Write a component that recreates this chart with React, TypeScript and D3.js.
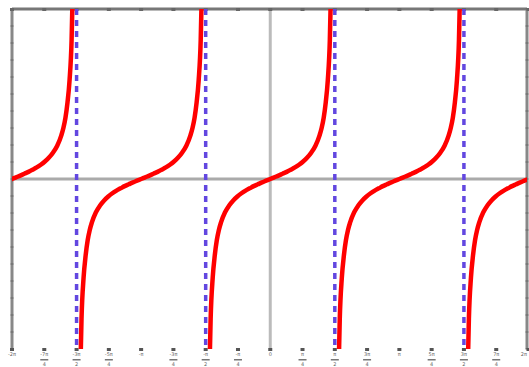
import React from 'react';
import * as d3 from 'd3';

// one branch of the curve: offset from the zero crossing, value
const branchOffsets = [-1.5, -1.48, -1.45, -1.4, -1.35, -1.3, -1.25, -1.2, -1.1, -1.0, -0.9, -0.8, -0.7, -0.6, -0.5, -0.4, -0.3, -0.2, -0.1, 0,
  0.1, 0.2, 0.3, 0.4, 0.5, 0.6, 0.7, 0.8, 0.9, 1.0, 1.1, 1.2, 1.25, 1.3, 1.35, 1.4, 1.45, 1.48, 1.5];
const branchValues = [-14.1, -11.4, -8.2, -5.8, -4.5, -3.6, -3.0, -2.57, -1.96, -1.56, -1.26, -1.03, -0.84, -0.68, -0.55, -0.42, -0.31, -0.2, -0.1, 0,
  0.1, 0.2, 0.31, 0.42, 0.55, 0.68, 0.84, 1.03, 1.26, 1.56, 1.96, 2.57, 3.0, 3.6, 4.5, 5.8, 8.2, 11.4, 14.1];
// zero crossings of each branch
const branchCenters = [-6.283, -3.1416, 0, 3.1416, 6.283];
// vertical asymptotes
const asymptotes = [-4.712, -1.5708, 1.5708, 4.712];
// x ticks every quarter pi
const xTickValues = [-6.283, -5.498, -4.712, -3.927, -3.1416, -2.356, -1.5708, -0.785, 0, 0.785, 1.5708, 2.356, 3.1416, 3.927, 4.712, 5.498, 6.283];
const xTickNums = ['-2π', '-7π', '-3π', '-5π', '-π', '-3π', '-π', '-π', '0', 'π', 'π', '3π', 'π', '5π', '3π', '7π', '2π'];
const xTickDens = ['', '4', '2', '4', '', '4', '2', '4', '', '4', '2', '4', '', '4', '2', '4', ''];
const yTickValues = d3.range(-10, 11, 1);

const W = 529;
const H = 367;
const left = 12, right = 527, top = 9, bottom = 349;

export default function App() {
  const x = d3.scaleLinear().domain([-2 * Math.PI, 2 * Math.PI]).range([12, 528.5]);
  const y = d3.scaleLinear().domain([-10, 10]).range([bottom, top]);

  const line = d3.line<[number, number]>()
    .x(d => x(d[0]))
    .y(d => y(d[1]))
    .curve(d3.curveMonotoneX);

  const branches = branchCenters.map(c =>
    branchOffsets.map((o, i) => [c + o, branchValues[i]] as [number, number])
  );

  const last = xTickValues.length - 1;

  return (
    <svg width={W} height={H} style={{ position: 'absolute', left: 0, top: 0, background: '#fff' }}>
      <defs>
        <clipPath id="plot">
          <rect x={left} y={top} width={right - left} height={bottom - top} />
        </clipPath>
      </defs>
      {/* zero axes */}
      <line x1={left} x2={right} y1={y(0)} y2={y(0)} stroke="#aaa" strokeWidth={3} />
      <line x1={x(0)} x2={x(0)} y1={top} y2={bottom} stroke="#bbb" strokeWidth={3} />
      {/* frame */}
      <line x1={left} x2={right} y1={top} y2={top} stroke="#777" strokeWidth={3} />
      <line x1={left} x2={left} y1={top} y2={bottom} stroke="#888" strokeWidth={3} />
      <line x1={right} x2={right} y1={top} y2={bottom} stroke="#888" strokeWidth={3} />
      {/* y ticks on the side borders */}
      {yTickValues.map(v => (
        <g key={'yt' + v}>
          <line x1={left - 1.5} x2={left + 1.5} y1={y(v)} y2={y(v)} stroke="#666" strokeWidth={1} />
          <line x1={right - 1.5} x2={right + 1.5} y1={y(v)} y2={y(v)} stroke="#666" strokeWidth={1} />
        </g>
      ))}
      {/* x ticks on top and bottom */}
      {xTickValues.map((v, i) => (
        <g key={'xt' + i}>
          <rect x={x(v) - 2} y={top - 1} width={4} height={3} fill="#666" />
          <rect x={x(v) - 2} y={bottom - 1} width={4} height={3} fill="#555" />
        </g>
      ))}
      {/* asymptotes */}
      {asymptotes.map((a, i) => (
        <line key={'as' + i} x1={x(a)} x2={x(a)} y1={top} y2={bottom}
          stroke="#6247e0" strokeWidth={3.5} strokeDasharray="6,5" />
      ))}
      {/* curve */}
      <g clipPath="url(#plot)">
        {branches.map((b, i) => (
          <path key={'br' + i} d={line(b) || ''} fill="none" stroke="#ff0000" strokeWidth={4.5} strokeLinejoin="round" />
        ))}
      </g>
      {/* tick labels */}
      {xTickValues.map((v, i) => (
        <g key={'xl' + i} fill="#666" fontFamily="DejaVu Sans" fontSize={5}
          textAnchor={i === last ? 'end' : i === 0 ? 'start' : 'middle'}>
          <text x={i === last ? right : i === 0 ? 8 : x(v)} y={356}>{xTickNums[i]}</text>
          {xTickDens[i] && (
            <>
              <rect x={x(v) - 4} y={359} width={8} height={1.5} fill="#777" />
              <text x={x(v)} y={366}>{xTickDens[i]}</text>
            </>
          )}
        </g>
      ))}
    </svg>
  );
}
